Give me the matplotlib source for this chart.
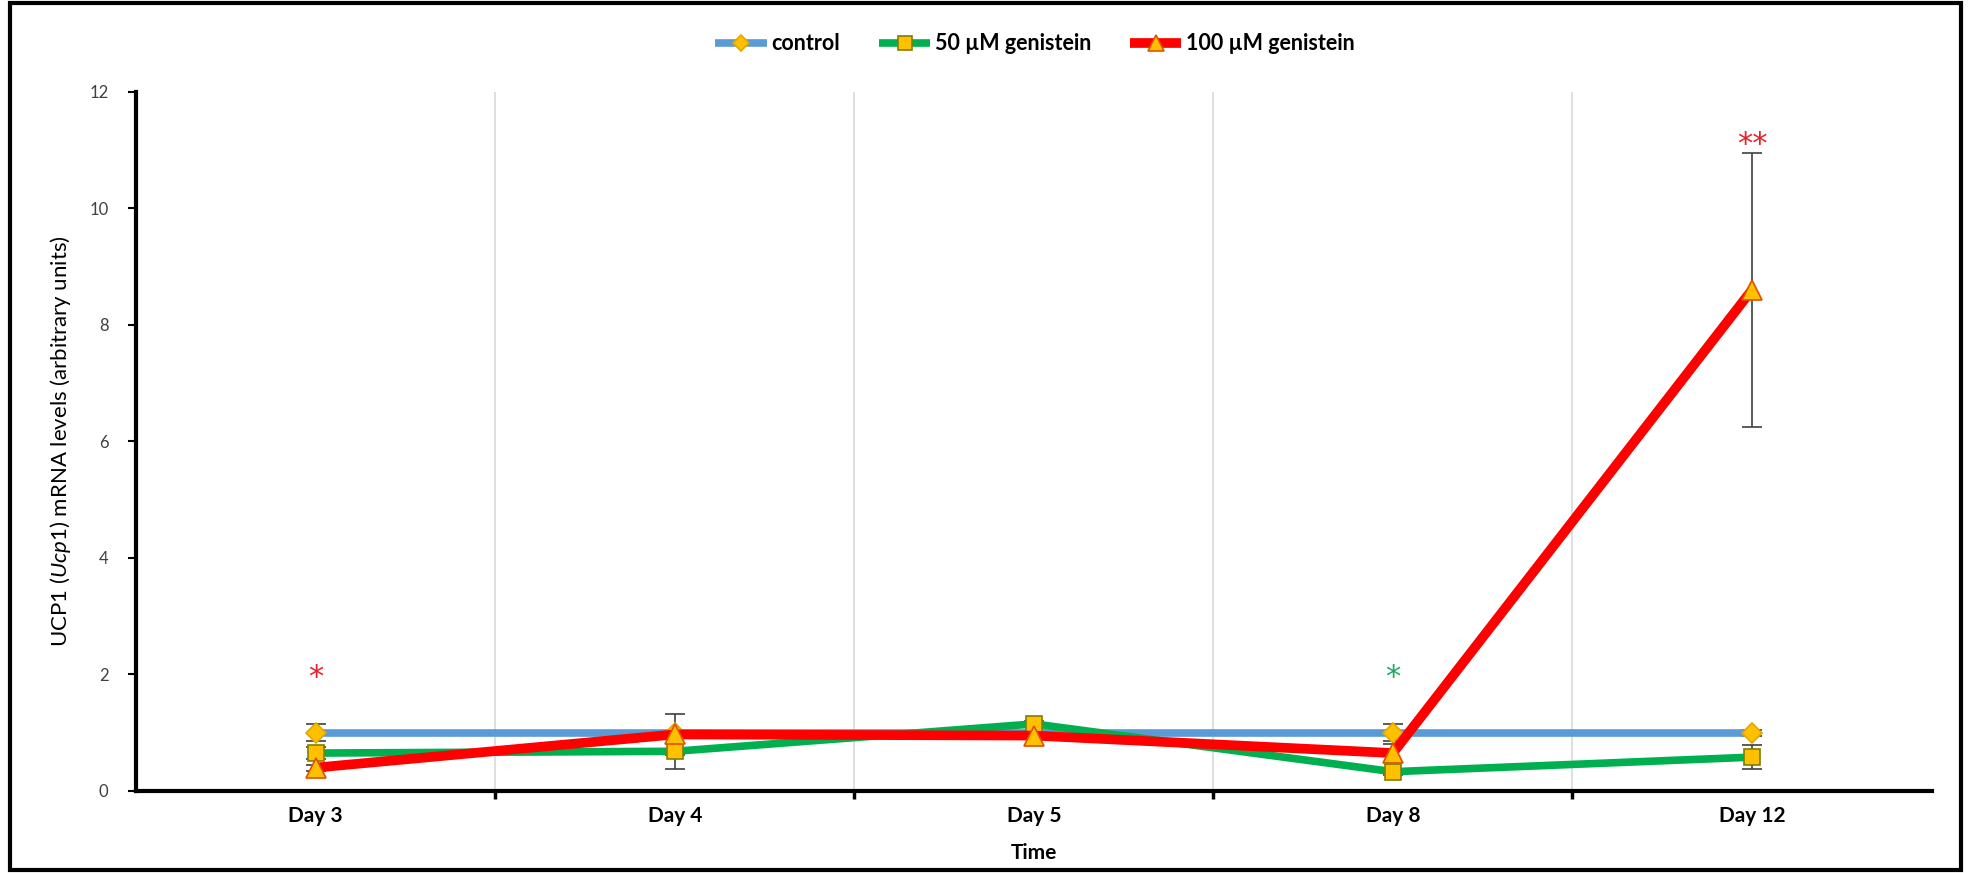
import matplotlib
matplotlib.use("Agg")
import matplotlib.pyplot as plt
from matplotlib.patches import Rectangle

# ---------------------------------------------------------------------------
# data -----------------------------------------------------------------------
# ---------------------------------------------------------------------------
days = ["Day 3", "Day 4", "Day 5", "Day 8", "Day 12"]

control = [1.0, 1.0, 1.0, 1.0, 1.0]
control_err = [0.15, 0.0, 0.0, 0.15, 0.05]

gen50 = [0.65, 0.68, 1.15, 0.33, 0.58]
gen50_err = [0.10, 0.30, 0.05, 0.05, 0.20]

gen100 = [0.40, 0.97, 0.95, 0.65, 8.60]
gen100_err = [0.05, 0.35, 0.05, 0.15, 2.35]

# significance marks: (day index, y, text, colour)
stars = [(0, 1.95, "*", "#E8202A"), (3, 1.95, "*", "#1FA86A"), (4, 11.1, "**", "#E8202A")]

yticks = [0, 2, 4, 6, 8, 10, 12]

plt.rcParams["font.family"] = ["Lato", "DejaVu Sans"]
plt.rcParams["mathtext.fontset"] = "custom"
plt.rcParams["mathtext.it"] = "Lato:italic"
plt.rcParams["mathtext.rm"] = "Lato"

fig = plt.figure(figsize=(19.75, 8.73), dpi=100)
ax = fig.add_axes([0.069, 0.094, 0.909, 0.801])

x = list(range(len(days)))
err_kw = dict(ecolor="#404040", elinewidth=1.2, capsize=7, capthick=1.2, zorder=2)

series = [
    (control, control_err, "#5B9BD5", "D", "#FFC000", "#E0A800", 5.5, 10, "control"),
    (gen50, gen50_err, "#00B050", "s", "#FFC000", "#7F7F00", 5.5, 12, "50 µM genistein"),
    (gen100, gen100_err, "#FF0000", "^", "#FFC000", "#E05000", 7, 14, "100 µM genistein"),
]
handles = []
for vals, errs, col, mk, mfc, mec, lw, ms, lab in series:
    ax.errorbar(x, vals, yerr=errs, fmt="none", **err_kw)
    h, = ax.plot(x, vals, color=col, lw=lw, marker=mk, ms=ms, mfc=mfc, mec=mec,
                 mew=1.2, label=lab, zorder=3, solid_capstyle="butt")
    handles.append(h)

for i, y, txt, col in stars:
    ax.text(i, y, txt, color=col, fontsize=22, ha="center", va="center",
            family="DejaVu Sans")

ax.set_xlim(-0.5, len(days) - 0.5)
ax.set_ylim(0, 12)
ax.set_yticks(yticks)
ax.tick_params(axis="y", labelsize=12, length=6, width=1.5, direction="out", pad=14,
               labelcolor="#404040")
ax.set_xticks(x)
ax.set_xticklabels(days, fontsize=15, fontweight="bold")
ax.tick_params(axis="x", length=0, pad=11)
ax.set_xticks([i + 0.5 for i in x[:-1]], minor=True)
ax.tick_params(axis="x", which="minor", length=6, width=2.5, direction="out")
ax.grid(True, which="minor", axis="x", color="#D9D9D9", lw=1.2)
ax.set_axisbelow(True)

for s in ("top", "right"):
    ax.spines[s].set_visible(False)
for s in ("left", "bottom"):
    ax.spines[s].set_linewidth(3)

ax.set_xlabel("Time", fontsize=15, fontweight="bold", labelpad=12)
ax.set_ylabel(r"UCP1 ($\it{Ucp1}$) mRNA levels (arbitrary units)", fontsize=16, labelpad=12)

fig.legend(handles=handles, loc="center", bbox_to_anchor=(0.524, 0.95), ncol=3,
           frameon=False, handlelength=2.4, columnspacing=1.8, handletextpad=0.2,
           markerscale=0.85, prop=dict(weight="bold", size=15.5))

fig.patches.append(Rectangle((0.005, 0.004), 0.988, 0.992, transform=fig.transFigure,
                             fill=False, edgecolor="black", lw=3))

fig.savefig("out.png", dpi=100)
